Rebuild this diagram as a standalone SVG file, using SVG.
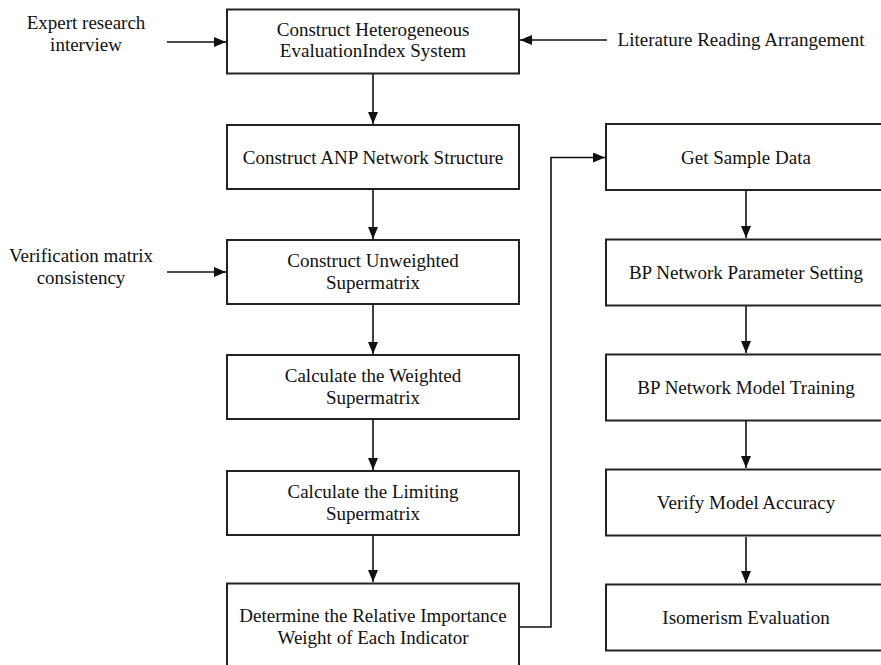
<svg xmlns="http://www.w3.org/2000/svg" width="881" height="665" viewBox="0 0 881 665">
<style>
.box{fill:#fff;stroke:#222;stroke-width:2}
.t{font-family:"Liberation Serif","Times New Roman",serif;font-size:19px;fill:#111;text-anchor:middle}
.c{fill:none;stroke:#111;stroke-width:1.6}
</style>
<defs>
<marker id="ah" markerUnits="userSpaceOnUse" markerWidth="12" markerHeight="10" refX="12" refY="5" orient="auto">
<path d="M0,0 L12,5 L0,10 Z" fill="#111"/>
</marker>
</defs>
<rect width="881" height="665" fill="#fff"/>
<g id="connectors">
<line class="c" x1="167" y1="42" x2="226" y2="42" marker-end="url(#ah)"/>
<line class="c" x1="607" y1="40" x2="520" y2="40" marker-end="url(#ah)"/>
<line class="c" x1="373" y1="74" x2="373" y2="124" marker-end="url(#ah)"/>
<line class="c" x1="373" y1="190" x2="373" y2="239" marker-end="url(#ah)"/>
<line class="c" x1="167" y1="272" x2="226" y2="272" marker-end="url(#ah)"/>
<line class="c" x1="373" y1="305" x2="373" y2="354" marker-end="url(#ah)"/>
<line class="c" x1="373" y1="420" x2="373" y2="470" marker-end="url(#ah)"/>
<line class="c" x1="373" y1="536" x2="373" y2="582" marker-end="url(#ah)"/>
<polyline class="c" points="520,627 551,627 551,157.5 605,157.5" marker-end="url(#ah)"/>
<line class="c" x1="746" y1="191" x2="746" y2="238" marker-end="url(#ah)"/>
<line class="c" x1="746" y1="306" x2="746" y2="353" marker-end="url(#ah)"/>
<line class="c" x1="746" y1="421" x2="746" y2="468" marker-end="url(#ah)"/>
<line class="c" x1="746" y1="537" x2="746" y2="583" marker-end="url(#ah)"/>
</g>
<g id="label-expert">
<text class="t" x="86" y="29">Expert research</text>
<text class="t" x="86" y="51">interview</text>
</g>
<g id="label-literature">
<text class="t" x="741" y="46">Literature Reading Arrangement</text>
</g>
<g id="label-verification">
<text class="t" x="81" y="262">Verification matrix</text>
<text class="t" x="81" y="284">consistency</text>
</g>
<g id="n1">
<rect class="box" x="227" y="9.5" width="292" height="64"/>
<text class="t" x="373" y="36">Construct Heterogeneous</text>
<text class="t" x="373" y="57">EvaluationIndex System</text>
</g>
<g id="n2">
<rect class="box" x="227" y="125" width="292" height="64"/>
<text class="t" x="373" y="163.5">Construct ANP Network Structure</text>
</g>
<g id="n3">
<rect class="box" x="227" y="240" width="292" height="64"/>
<text class="t" x="373" y="266.5">Construct Unweighted</text>
<text class="t" x="373" y="288.5">Supermatrix</text>
</g>
<g id="n4">
<rect class="box" x="227" y="355" width="292" height="64"/>
<text class="t" x="373" y="381.5">Calculate the Weighted</text>
<text class="t" x="373" y="403.5">Supermatrix</text>
</g>
<g id="n5">
<rect class="box" x="227" y="471" width="292" height="64"/>
<text class="t" x="373" y="497.5">Calculate the Limiting</text>
<text class="t" x="373" y="519.5">Supermatrix</text>
</g>
<g id="n6">
<rect class="box" x="227" y="583.5" width="292" height="90"/>
<text class="t" x="373" y="621.5">Determine the Relative Importance</text>
<text class="t" x="373" y="643.5">Weight of Each Indicator</text>
</g>
<g id="m1">
<rect class="box" x="606" y="124" width="280" height="66"/>
<text class="t" x="746" y="163.5">Get Sample Data</text>
</g>
<g id="m2">
<rect class="box" x="606" y="239.5" width="280" height="66"/>
<text class="t" x="746" y="279">BP Network Parameter Setting</text>
</g>
<g id="m3">
<rect class="box" x="606" y="354.5" width="280" height="66"/>
<text class="t" x="746" y="394">BP Network Model Training</text>
</g>
<g id="m4">
<rect class="box" x="606" y="469.5" width="280" height="66"/>
<text class="t" x="746" y="509">Verify Model Accuracy</text>
</g>
<g id="m5">
<rect class="box" x="606" y="584.5" width="280" height="66"/>
<text class="t" x="746" y="624">Isomerism Evaluation</text>
</g>
</svg>
